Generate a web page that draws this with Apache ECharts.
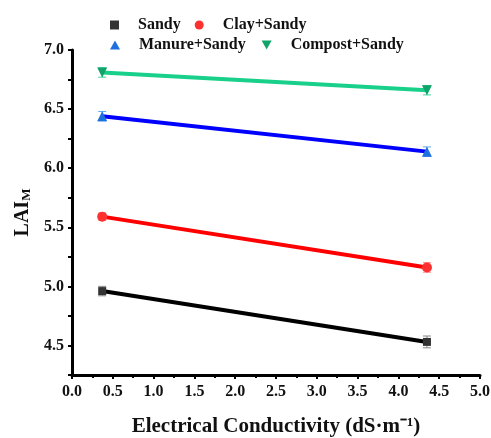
<!DOCTYPE html>
<html>
<head>
<meta charset="utf-8">
<script src="https://cdn.jsdelivr.net/npm/echarts@6/dist/echarts.min.js"></script>
<style>
html, body { margin: 0; padding: 0; background: #fff; }
#main { width: 491px; height: 438px; }
</style>
</head>
<body>
<div id="main"></div>
<script>
var ec = [0.37, 4.35];
var sandy = [4.96, 4.53];
var claySandy = [5.59, 5.16];
var manureSandy = [6.44, 6.14];
var compostSandy = [6.81, 6.66];
var sandyErr = [0.04, 0.05];
var clayErr = [0.03, 0.04];
var manureErr = [0.04, 0.04];
var compostErr = [0.04, 0.04];

var myChart = echarts.init(document.getElementById('main'));
var font = '"Liberation Serif", "Times New Roman", serif';

function pts(ys) {
    return ec.map(function (x, i) { return [x, ys[i]]; });
}

// error bars drawn as custom series (not in legend)
function errSeries(name, ys, errs, color) {
    return {
        name: name + ' err',
        type: 'custom',
        z: 1,
        itemStyle: { color: color },
        data: ec.map(function (x, i) { return [x, ys[i] - errs[i], ys[i] + errs[i]]; }),
        renderItem: function (params, api) {
            var lo = api.coord([api.value(0), api.value(1)]);
            var hi = api.coord([api.value(0), api.value(2)]);
            var w = 4;
            var st = { stroke: color, lineWidth: 1 };
            return {
                type: 'group',
                children: [
                    { type: 'line', shape: { x1: lo[0], y1: lo[1], x2: hi[0], y2: hi[1] }, style: st },
                    { type: 'line', shape: { x1: lo[0] - w, y1: lo[1], x2: lo[0] + w, y2: lo[1] }, style: st },
                    { type: 'line', shape: { x1: hi[0] - w, y1: hi[1], x2: hi[0] + w, y2: hi[1] }, style: st }
                ]
            };
        }
    };
}

function lineSeries(name, ys, lineColor, markColor, symbol) {
    return {
        name: name,
        type: 'line',
        z: 3,
        data: pts(ys),
        symbol: symbol,
        symbolSize: symbol === 'rect' ? 8 : 10,
        lineStyle: { color: lineColor, width: 4 },
        itemStyle: { color: markColor }
    };
}

var legendText = { fontFamily: font, fontWeight: 'bold', fontSize: 16, color: '#111', padding: [0, 0, 0, 14] };

option = {
    backgroundColor: '#fff',
    animation: false,
    legend: [
        {
            data: [
                { name: 'Sandy', icon: 'rect' },
                { name: 'Clay+Sandy', icon: 'circle' }
            ],
            left: 105, top: 12,
            itemWidth: 9, itemHeight: 9, itemGap: 14,
            textStyle: legendText
        },
        {
            data: [
                { name: 'Manure+Sandy', icon: 'triangle' },
                { name: 'Compost+Sandy', icon: 'path://M0,0 L10,0 L5,9 Z' }
            ],
            left: 105, top: 32,
            itemWidth: 10, itemHeight: 9, itemGap: 16,
            textStyle: legendText
        }
    ],
    grid: { left: 72, right: 11, top: 50, bottom: 63, outerBoundsMode: 'none', containLabel: false },
    xAxis: {
        type: 'value',
        min: 0, max: 5, interval: 0.5,
        name: 'Electrical Conductivity (dS·m⁻¹)',
        nameLocation: 'middle', nameGap: 41,
        nameTextStyle: { fontFamily: font, fontWeight: 'bold', fontSize: 21, color: '#111' },
        axisLine: { lineStyle: { color: '#000', width: 3 } },
        axisTick: { show: true, length: 4, lineStyle: { color: '#000', width: 2 } },
        minorTick: { show: true, splitNumber: 2, length: 3, lineStyle: { color: '#000', width: 2 } },
        axisLabel: {
            fontFamily: font, fontWeight: 'bold', fontSize: 16, color: '#111', margin: 9,
            formatter: function (v) { return v.toFixed(1); }
        },
        splitLine: { show: false }
    },
    yAxis: {
        type: 'value',
        min: 4.25, max: 7.0, interval: 0.25,
        name: 'LAI{sub|M}',
        nameLocation: 'middle', nameGap: 39, nameRotate: 90,
        nameTextStyle: {
            fontFamily: font, fontWeight: 'bold', fontSize: 20, color: '#111',
            rich: { sub: { fontFamily: font, fontWeight: 'bold', fontSize: 13, color: '#111', padding: [8, 0, 0, 0] } }
        },
        axisLine: { show: true, lineStyle: { color: '#000', width: 3 } },
        axisTick: { show: true, length: 4, lineStyle: { color: '#000', width: 2 } },
        axisLabel: {
            fontFamily: font, fontWeight: 'bold', fontSize: 16, color: '#111', margin: 8,
            formatter: function (v) {
                return Math.abs(v * 2 - Math.round(v * 2)) < 1e-6 ? v.toFixed(1) : '';
            }
        },
        splitLine: { show: false }
    },
    series: [
        errSeries('Sandy', sandy, sandyErr, '#888888'),
        errSeries('Clay+Sandy', claySandy, clayErr, '#ff8080'),
        errSeries('Manure+Sandy', manureSandy, manureErr, '#5aaaf0'),
        errSeries('Compost+Sandy', compostSandy, compostErr, '#3dd89a'),
        lineSeries('Sandy', sandy, '#000000', '#333333', 'rect'),
        lineSeries('Clay+Sandy', claySandy, '#ff0000', '#ff3030', 'circle'),
        lineSeries('Manure+Sandy', manureSandy, '#0000ff', '#1e6fe0', 'triangle'),
        lineSeries('Compost+Sandy', compostSandy, '#19d08a', '#10a36a', 'path://M0,0 L10,0 L5,9 Z')
    ]
};

myChart.setOption(option);
</script>
</body>
</html>
